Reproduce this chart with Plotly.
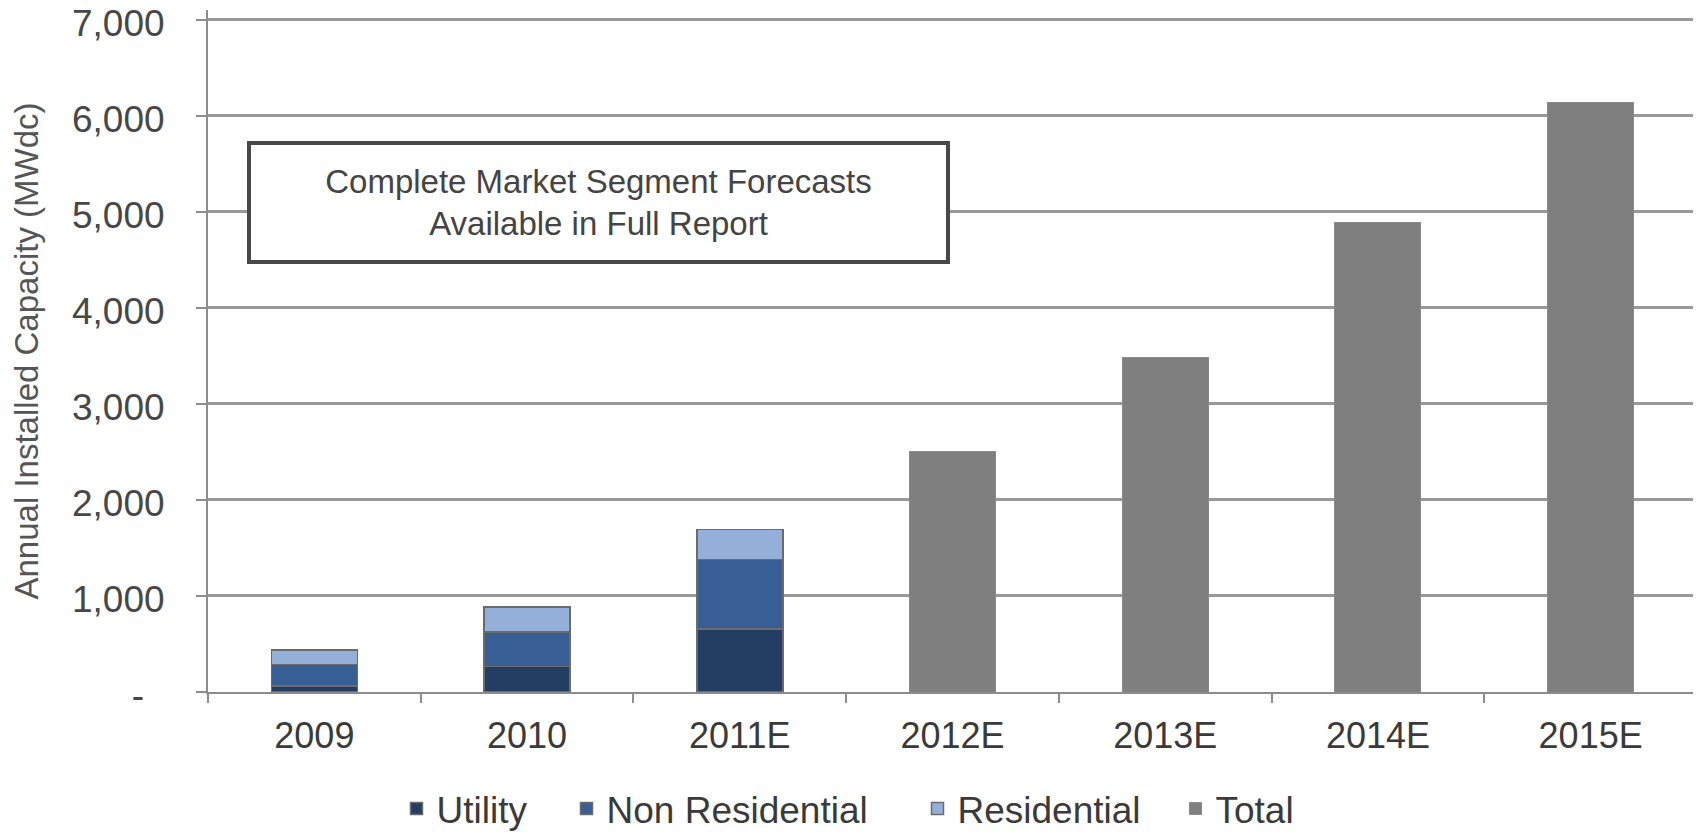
import plotly.graph_objects as go

categories = ["2009", "2010", "2011E", "2012E", "2013E", "2014E", "2015E"]
utility = [60, 265, 655, None, None, None, None]
non_residential = [225, 358, 727, None, None, None, None]
residential = [150, 260, 308, None, None, None, None]
total = [None, None, None, 2500, 3480, 4885, 6135]

y_tickvals = [0, 1000, 2000, 3000, 4000, 5000, 6000, 7000]
y_ticktext = ["-\u00a0\u00a0", "1,000", "2,000", "3,000", "4,000", "5,000", "6,000", "7,000"]

box_text = "Complete Market Segment Forecasts<br>Available in Full Report"

FONT = "Liberation Sans, Arial, sans-serif"
outline = dict(color="#6b6b6b", width=1.5)

# the page body adds an 8px offset; figure is sized to fit the 1701x832 window
OFF = 8
W, H = 1701 - OFF, 832 - OFF
L, R, T, B = 200, 4, 2, 140
PW = W - L - R
PH = H - T - B


def px_x(page_px):
    return (page_px - OFF - L) / PW


def px_y(page_py):
    return (H - B - (page_py - OFF)) / PH


fig = go.Figure()
fig.add_bar(x=categories, y=utility, name="Utility", legend="legend",
            marker=dict(color="#243D62", line=outline))
fig.add_bar(x=categories, y=non_residential, name="Non Residential", legend="legend2",
            marker=dict(color="#385F95", line=outline))
fig.add_bar(x=categories, y=residential, name="Residential", legend="legend3",
            marker=dict(color="#94B0D8", line=outline))
fig.add_bar(x=categories, y=total, name="Total", legend="legend4",
            marker=dict(color="#7F7F7F", line=dict(color="#8a8a8a", width=1)))


def leg(text_page_px):
    return dict(orientation="h", xref="paper", x=px_x(text_page_px - 40.5), xanchor="left",
                yref="container", y=(H - (809 - OFF)) / H, yanchor="middle",
                font=dict(size=37, color="#3a3a3a", family=FONT),
                itemwidth=30, bgcolor="rgba(0,0,0,0)")


fig.update_layout(
    width=W, height=H,
    margin=dict(l=L, r=R, t=T, b=B, autoexpand=False),
    barmode="stack",
    bargap=0.596,
    plot_bgcolor="white",
    paper_bgcolor="white",
    font=dict(family=FONT, color="#444444"),
    showlegend=True,
    legend=leg(437),
    legend2=leg(607),
    legend3=leg(958),
    legend4=leg(1216),
    xaxis=dict(
        type="category", categoryorder="array", categoryarray=categories,
        automargin=False,
        showline=True, linecolor="#8c8c8c", linewidth=2,
        ticks="outside", tickson="boundaries", ticklen=9, tickwidth=2, tickcolor="#8c8c8c",
        tickfont=dict(size=36, color="#3a3a3a", family=FONT),
        ticklabelstandoff=11,
        showgrid=False, zeroline=False,
    ),
    yaxis=dict(
        range=[0, 7100], tickvals=y_tickvals, ticktext=y_ticktext,
        automargin=False,
        ticklabeloverflow="allow",
        ticklabelshift=3,
        showline=True, linecolor="#8c8c8c", linewidth=2,
        ticks="outside", ticklen=10, tickwidth=2, tickcolor="#8c8c8c",
        tickfont=dict(size=37, color="#474747", family=FONT),
        ticklabelstandoff=24,
        showgrid=True, gridcolor="#999999", gridwidth=2.5,
        zeroline=False,
        title=dict(text="Annual Installed Capacity (MWdc)",
                   font=dict(size=33, color="#555555", family=FONT), standoff=34),
    ),
)

fig.add_annotation(
    xref="paper", yref="paper",
    x=px_x(598), y=px_y(202.4), xanchor="center", yanchor="middle",
    text=box_text, showarrow=False,
    font=dict(size=33, color="#444444", family=FONT),
    bordercolor="#484848", borderwidth=4, borderpad=0,
    bgcolor="white", width=695, height=115, align="center",
)

fig.write_html("out.html")
